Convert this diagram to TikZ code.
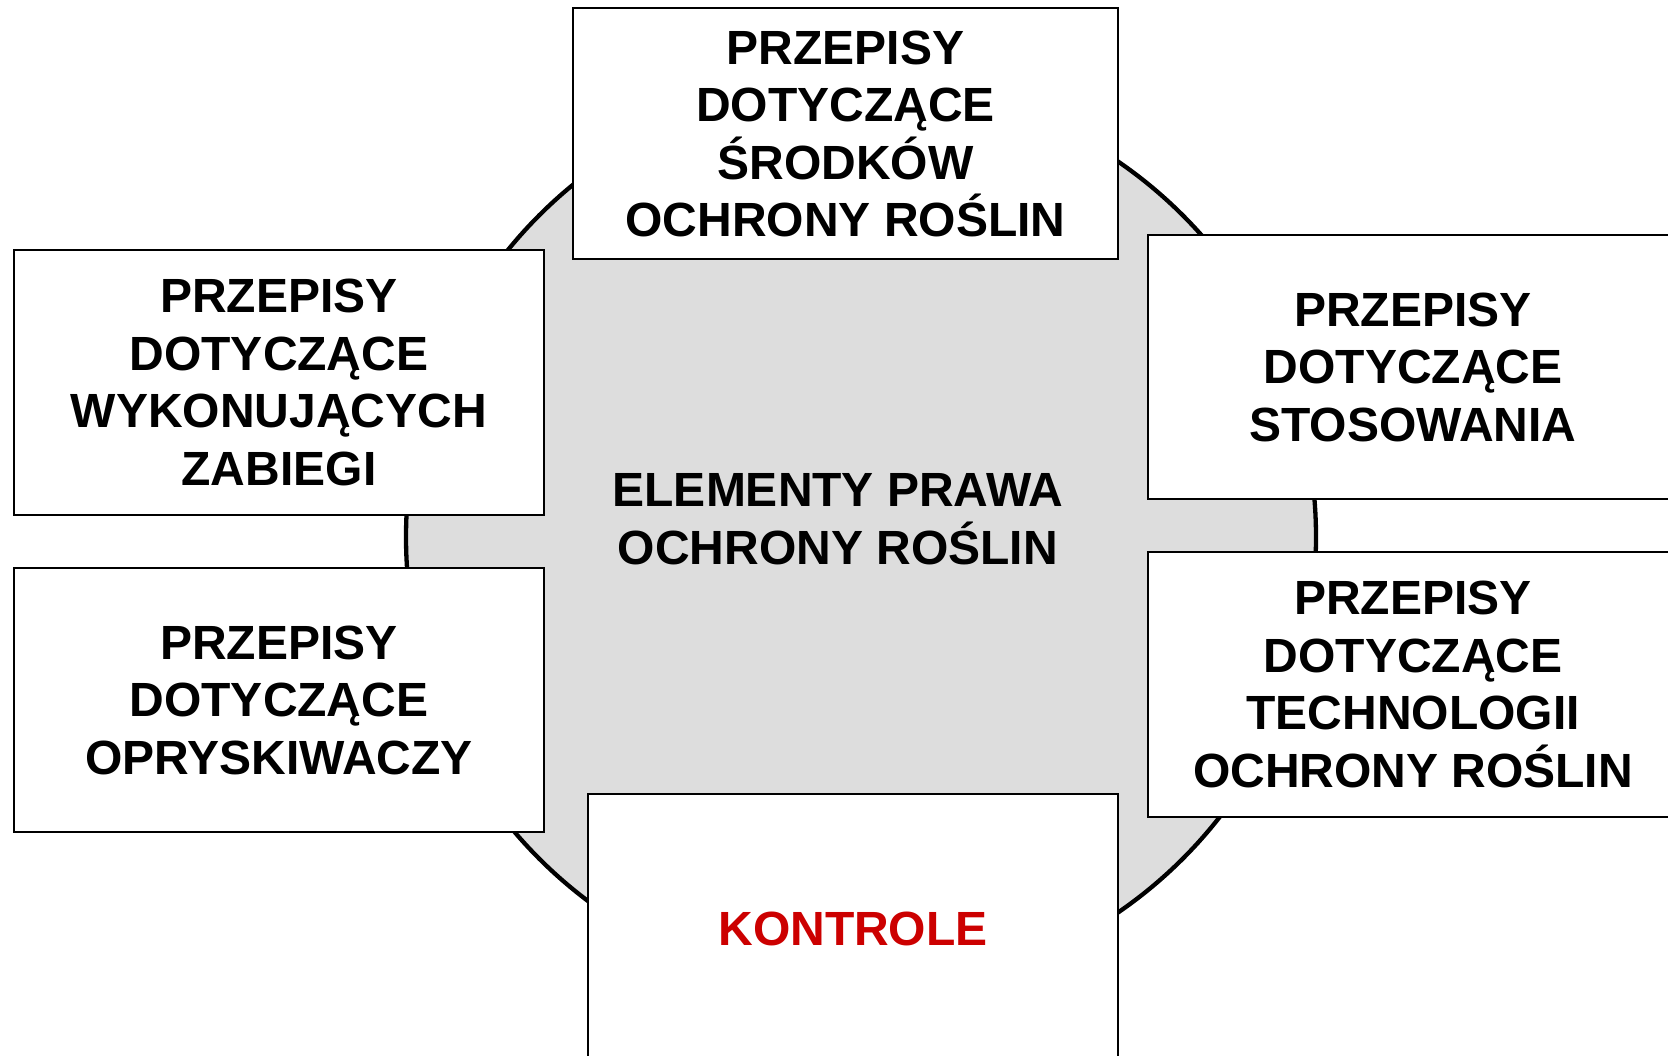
\documentclass[tikz,border=0pt]{standalone}
\usepackage{fontspec}
\setmainfont{Liberation Sans}
\begin{document}
\begin{tikzpicture}[x=1pt,y=-1pt,
  lbl/.style={font=\fontsize{48}{57.5}\selectfont\bfseries, align=center, inner sep=0pt},
  box/.style={lbl, draw=black, line width=2pt, fill=white, rectangle, minimum width=#1},
  box/.default=530pt]
\definecolor{ringgray}{HTML}{DDDDDD}
\definecolor{ctrlred}{HTML}{CC0000}
\useasboundingbox (0,0) rectangle (1668,1056);
\node[circle, draw=black, line width=4.3pt, fill=ringgray, minimum size=910pt, inner sep=0pt] (ring) at (861,537) {};
\node[box=545pt, minimum height=251pt] (top) at (845.5,134) {PRZEPISY\\DOTYCZĄCE\\ŚRODKÓW\\OCHRONY ROŚLIN};
\node[box, minimum height=265pt] (lt) at (279,382.5) {PRZEPISY\\DOTYCZĄCE\\WYKONUJĄCYCH\\ZABIEGI};
\node[box, minimum height=264pt] (lb) at (279,700) {PRZEPISY\\DOTYCZĄCE\\OPRYSKIWACZY};
\node[box, minimum height=264pt] (rt) at (1413,367) {PRZEPISY\\DOTYCZĄCE\\STOSOWANIA};
\node[box, minimum height=265pt] (rb) at (1413,684.5) {PRZEPISY\\DOTYCZĄCE\\TECHNOLOGII\\OCHRONY ROŚLIN};
\node[box, minimum height=270pt, text=ctrlred] (ctrl) at (853,929) {KONTROLE};
\node[lbl] (center) at (838,519) {ELEMENTY PRAWA\\OCHRONY ROŚLIN};
\end{tikzpicture}
\end{document}
